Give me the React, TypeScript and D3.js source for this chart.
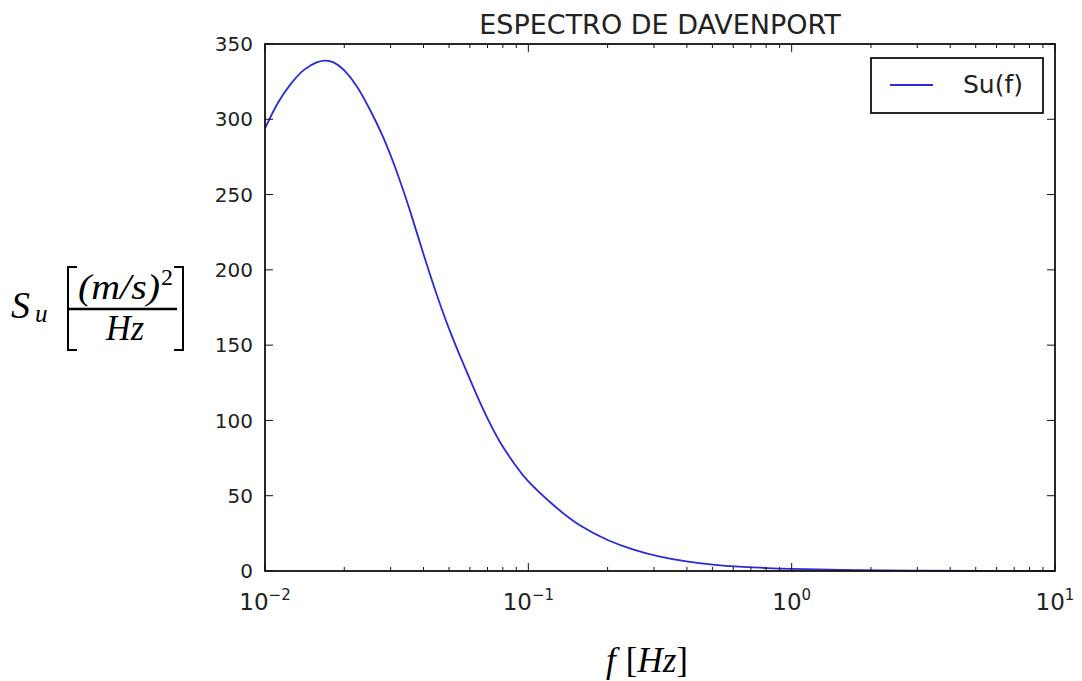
import React from "react";
import * as d3 from "d3";

const freqs = [0.01, 0.0112, 0.0126, 0.0141, 0.0158, 0.017, 0.0182, 0.02, 0.0224, 0.0251, 0.0282, 0.0316, 0.0355, 0.0398, 0.0447, 0.0501, 0.0562, 0.0631, 0.0708, 0.0794, 0.0891, 0.1, 0.126, 0.158, 0.2, 0.251, 0.316, 0.398, 0.501, 0.631, 0.794, 1.0, 1.78, 3.16, 5.62, 10];
const suValues = [294, 311, 324, 333, 338, 339, 337.8, 332.5, 321.5, 306, 287.5, 265.5, 239.5, 211.5, 184.5, 160.5, 139, 118.5, 99.5, 83.5, 70.5, 59.5, 43, 30, 20.6, 14.2, 9.5, 6.4, 4.3, 2.9, 2.0, 1.35, 0.55, 0.2, 0.08, 0.03];
const yTicks = [0, 50, 100, 150, 200, 250, 300, 350];
const xDecades = [-2, -1, 0, 1];
const titleText = "ESPECTRO DE DAVENPORT";
const legendLabel = "Su(f)";

const W = 1082, H = 681;
const L = 265, R = 1055, T = 44, B = 571;

export default function App() {
  const x = d3.scaleLog().domain([0.01, 10]).range([L, R]);
  const y = d3.scaleLinear().domain([0, 350]).range([B, T]);
  const pts = freqs.map((f, i) => [f, suValues[i]] as [number, number]);
  const line = d3.line<[number, number]>().x(d => x(d[0])).y(d => y(d[1])).curve(d3.curveNatural);
  const minor: number[] = [];
  for (const k of [-2, -1, 0]) for (let m = 2; m <= 9; m++) minor.push(m * Math.pow(10, k));
  const sans = "DejaVu Sans, sans-serif";
  const serif = "Liberation Serif, Times New Roman, serif";
  return (
    <svg width={W} height={H} style={{ position: "absolute", left: 0, top: 0, background: "#fff" }}>
      <rect x={0} y={0} width={W} height={H} fill="#fff" />
      <text x={(L + R) / 2} y={34} textAnchor="middle" fontFamily={sans} fontSize={27} fill="#222">{titleText}</text>
      <path d={line(pts) || ""} fill="none" stroke="#2a2ad6" strokeWidth={1.8} />
      {yTicks.map(v => (
        <g key={"y" + v}>
          <line x1={L} x2={L + 8} y1={y(v)} y2={y(v)} stroke="#111" strokeWidth={1} />
          <line x1={R} x2={R - 8} y1={y(v)} y2={y(v)} stroke="#111" strokeWidth={1} />
          <text x={253} y={y(v)} dy="0.36em" textAnchor="end" fontFamily={sans} fontSize={20} fill="#222">{v}</text>
        </g>
      ))}
      {xDecades.map(k => {
        const px = x(Math.pow(10, k));
        return (
          <g key={"x" + k}>
            <line x1={px} x2={px} y1={B} y2={B - 8} stroke="#111" strokeWidth={1} />
            <line x1={px} x2={px} y1={T} y2={T + 8} stroke="#111" strokeWidth={1} />
            <text x={px} y={610} textAnchor="middle" fontFamily={sans} fill="#222">
              <tspan fontSize={23}>10</tspan>
              <tspan fontSize={15} dy={-10}>{String(k).replace("-", "\u2212")}</tspan>
            </text>
          </g>
        );
      })}
      {minor.map((f, i) => (
        <g key={"m" + i}>
          <line x1={x(f)} x2={x(f)} y1={B} y2={B - 4} stroke="#111" strokeWidth={1} />
          <line x1={x(f)} x2={x(f)} y1={T} y2={T + 4} stroke="#111" strokeWidth={1} />
        </g>
      ))}
      <rect x={L} y={T} width={R - L} height={B - T} fill="none" stroke="#111" strokeWidth={1.8} />
      <rect x={871} y={58} width={172} height={55} fill="#fff" stroke="#111" strokeWidth={1.8} />
      <line x1={890} x2={933} y1={85} y2={85} stroke="#2a2ad6" strokeWidth={1.8} />
      <text x={963} y={93} fontFamily={sans} fontSize={25} fill="#222">{legendLabel}</text>
      <g fontFamily={serif} fontStyle="italic" fill="#000">
        <text x={11} y={318} fontSize={38}>S</text>
        <text x={35} y={322} fontSize={25}>u</text>
        <text x={78} y={299} fontSize={35} textLength={82} lengthAdjust="spacingAndGlyphs">(m/s)</text>
        <text x={161} y={285} fontSize={24} fontStyle="normal">2</text>
        <text x={106} y={340} fontSize={35} textLength={38} lengthAdjust="spacingAndGlyphs">Hz</text>
      </g>
      <line x1={69} x2={177} y1={309} y2={309} stroke="#000" strokeWidth={2.5} />
      <path d="M77,267 L68,267 L68,350 L77,350" fill="none" stroke="#000" strokeWidth={2} />
      <path d="M174,267 L183,267 L183,350 L174,350" fill="none" stroke="#000" strokeWidth={2} />
      <text x={606} y={672} fontFamily={serif} fontSize={35} fill="#000">
        <tspan fontStyle="italic">f</tspan>
        <tspan dx={10}>[</tspan>
        <tspan fontStyle="italic">Hz</tspan>
        <tspan>]</tspan>
      </text>
    </svg>
  );
}
